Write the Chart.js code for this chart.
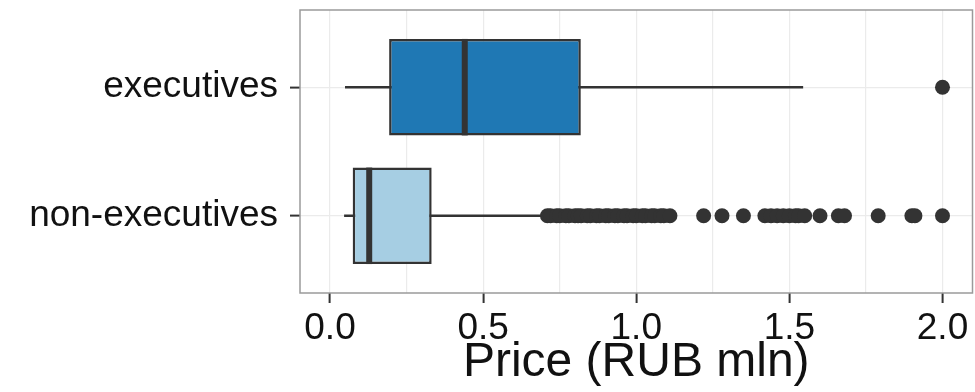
<!DOCTYPE html>
<html>
<head>
<meta charset="utf-8">
<script src="https://cdn.jsdelivr.net/npm/chart.js@4/dist/chart.umd.min.js"></script>
<style>
  html, body { margin: 0; padding: 0; background: #fff; overflow: hidden; }
  #wrap { width: 980px; height: 392px; }
</style>
</head>
<body>
<div id="wrap"><canvas id="box"></canvas></div>
<script>
/* ---- data ---- */
const groups     = ['executives', 'non-executives'];
const groupPos   = [1, 2];
const boxLow     = [0.193, 0.074];
const boxHigh    = [0.819, 0.332];
const medians    = [0.44, 0.128];
const whiskLow   = [0.049, 0.046];
const whiskHigh  = [1.545, 0.70];
const outExec    = [2.0];
const outNonExec = [0.71, 0.72, 0.74, 0.75, 0.77, 0.78, 0.80, 0.81, 0.82, 0.84, 0.85, 0.87,
                    0.88, 0.90, 0.91, 0.93, 0.94, 0.96, 0.97, 0.99, 1.00, 1.02, 1.03, 1.05,
                    1.06, 1.08, 1.09, 1.11, 1.22, 1.28, 1.35, 1.42, 1.44, 1.46, 1.48, 1.50,
                    1.52, 1.53, 1.55, 1.60, 1.66, 1.68, 1.79, 1.90, 1.91, 2.00];
const majorTicks = [0, 0.5, 1, 1.5, 2];
const minorTicks = [0.25, 0.75, 1.25, 1.75];
const boxColors  = ['#1f78b4', '#a6cee3'];

const ink = '#333333';

// whiskers under the boxes, medians + panel border on top
const boxExtras = {
  id: 'boxExtras',
  beforeDatasetsDraw(chart) {
    const { ctx, scales: { x, y } } = chart;
    ctx.save();
    ctx.strokeStyle = ink;
    ctx.lineWidth = 2.5;
    groupPos.forEach((p, i) => {
      const py = y.getPixelForValue(p);
      ctx.beginPath();
      ctx.moveTo(x.getPixelForValue(whiskLow[i]), py);
      ctx.lineTo(x.getPixelForValue(whiskHigh[i]), py);
      ctx.stroke();
    });
    ctx.restore();
  },
  afterDatasetsDraw(chart) {
    const { ctx, chartArea: a, scales: { x } } = chart;
    const bars = chart.getDatasetMeta(1).data;
    ctx.save();
    ctx.strokeStyle = ink;
    ctx.lineWidth = 6;
    bars.forEach((b, i) => {
      const px = x.getPixelForValue(medians[i]);
      ctx.beginPath();
      ctx.moveTo(px, b.y - b.height / 2);
      ctx.lineTo(px, b.y + b.height / 2);
      ctx.stroke();
    });
    ctx.strokeStyle = '#9a9a9a';
    ctx.lineWidth = 1.5;
    ctx.strokeRect(a.left, a.top, a.right - a.left, a.bottom - a.top);
    ctx.restore();
  }
};

Chart.defaults.font.family = '"Liberation Sans", Arial, sans-serif';
Chart.defaults.color = '#111';

const allX = [...majorTicks, ...minorTicks].sort((a, b) => a - b);
const isMajor = v => majorTicks.includes(v);

new Chart(document.getElementById('box'), {
  type: 'bar',
  data: {
    datasets: [
      {
        type: 'scatter',
        data: [
          ...outExec.map(v => ({ x: v, y: groupPos[0] })),
          ...outNonExec.map(v => ({ x: v, y: groupPos[1] }))
        ],
        backgroundColor: ink,
        borderWidth: 0,
        pointRadius: 7.5,
        pointHoverRadius: 7.5
      },
      {
        type: 'bar',
        grouped: false,
        data: groupPos.map((p, i) => ({ y: p, x: [boxLow[i], boxHigh[i]] })),
        backgroundColor: boxColors,
        borderColor: ink,
        borderWidth: 2.5,
        borderSkipped: false,
        barPercentage: 0.75,
        categoryPercentage: 1
      }
    ]
  },
  options: {
    indexAxis: 'y',
    responsive: true,
    maintainAspectRatio: false,
    animation: false,
    devicePixelRatio: 1,
    layout: { padding: { top: 10, right: 0, left: 0, bottom: 0 } },
    plugins: { legend: { display: false }, tooltip: { enabled: false } },
    scales: {
      x: {
        type: 'linear',
        min: -0.098,
        max: 2.098,
        offset: false,
        afterBuildTicks: s => { s.ticks = allX.map(v => ({ value: v })); },
        afterFit: s => { s.height = 99; s.paddingLeft = 0; s.paddingRight = 0; },
        ticks: {
          autoSkip: false,
          maxRotation: 0,
          padding: 4,
          font: { size: 37 },
          color: '#111',
          callback: v => isMajor(v) ? v.toFixed(1) : ''
        },
        grid: {
          offset: false,
          color: '#ebebeb',
          lineWidth: 1.2,
          tickLength: 10,
          tickWidth: 2,
          tickColor: c => (c.tick && isMajor(c.tick.value)) ? ink : 'rgba(0,0,0,0)'
        },
        border: { display: false },
        title: { display: true, text: 'Price (RUB mln)', font: { size: 48 }, color: '#111', padding: { top: 0, bottom: 0 } }
      },
      y: {
        type: 'linear',
        min: 0.4,
        max: 2.6,
        reverse: true,
        offset: false,
        afterBuildTicks: s => { s.ticks = groupPos.map(v => ({ value: v })); },
        afterFit: s => { s.width = 300; s.paddingTop = 0; s.paddingBottom = 0; },
        ticks: {
          padding: 12,
          font: { size: 37 },
          color: '#111',
          callback: v => groups[groupPos.indexOf(v)]
        },
        grid: { offset: false, color: '#ebebeb', lineWidth: 1.2, tickLength: 10, tickWidth: 2, tickColor: ink },
        border: { display: false }
      }
    }
  },
  plugins: [boxExtras]
});
</script>
</body>
</html>
